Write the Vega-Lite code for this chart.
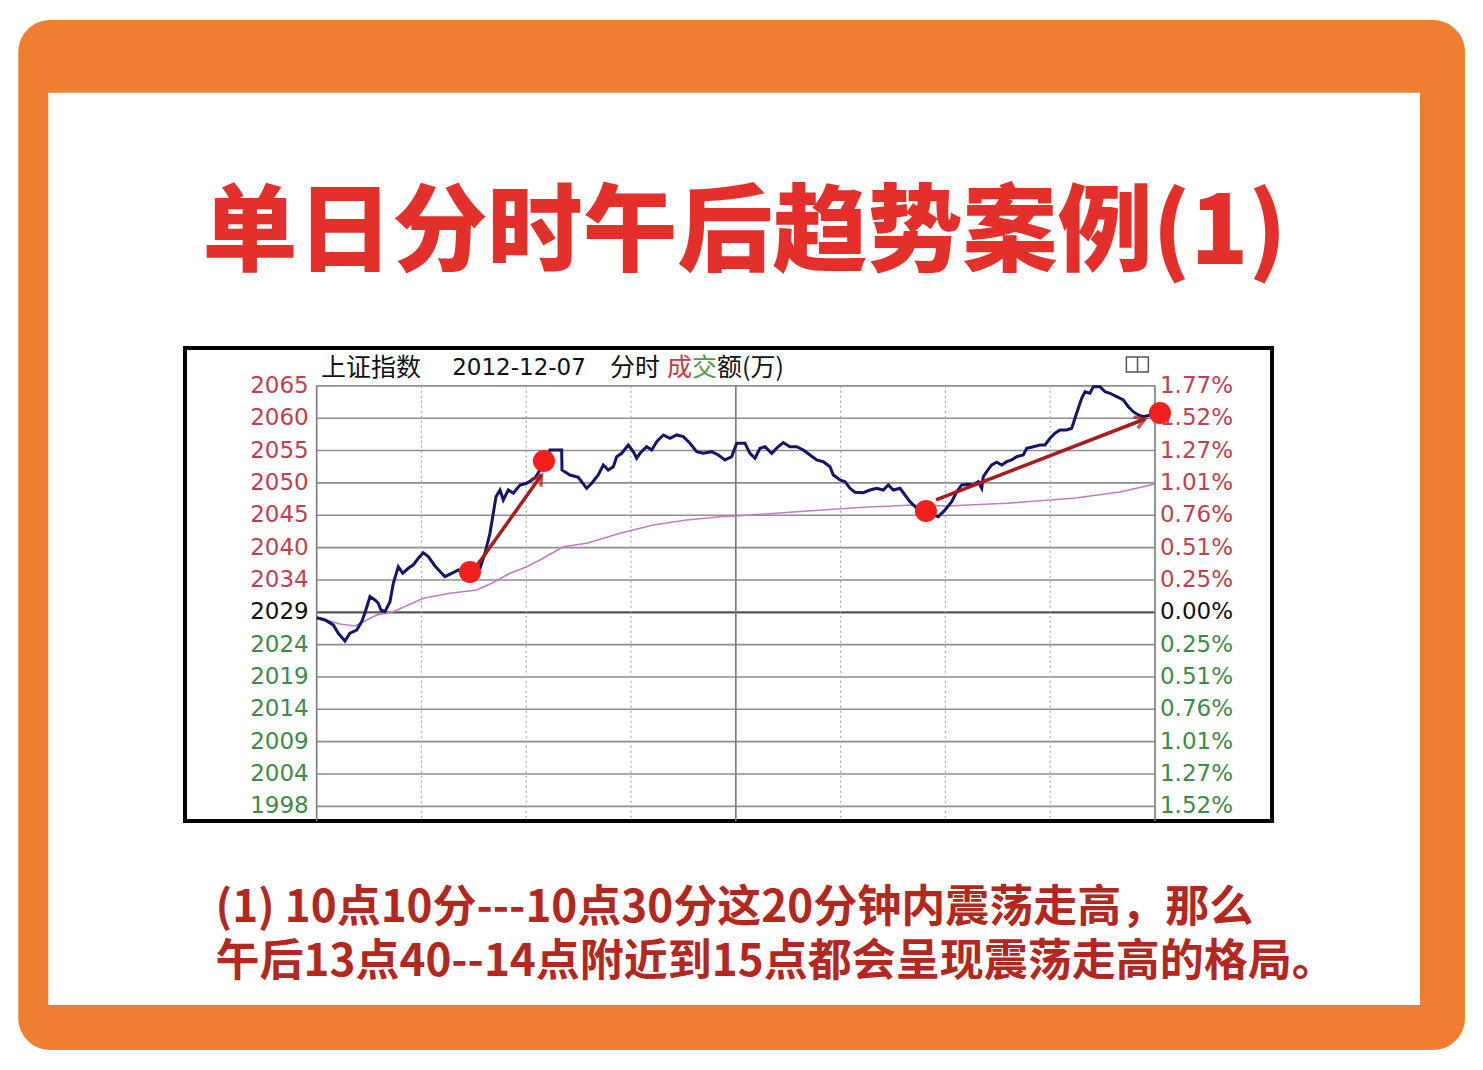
{
  "$schema": "https://vega.github.io/schema/vega-lite/v6.json",
  "autosize": {"type": "none"},
  "padding": {"left": 185, "top": 348, "right": 211, "bottom": 249},
  "width": 1087,
  "height": 473,
  "background": "white",
  "title": {
    "text": "单日分时午后趋势案例(1)",
    "font": "Noto Sans CJK SC",
    "fontSize": 95,
    "fontWeight": 900,
    "color": "#E3302A",
    "anchor": "middle",
    "frame": "group",
    "dx": 16,
    "offset": -339,
    "baseline": "alphabetic",
    "zindex": 1
  },
  "config": {
    "view": {"stroke": null},
    "axisX": {"labels": false, "ticks": false, "domain": false, "grid": false}
  },
  "datasets": {
    "price": [
      {"t": 0, "v": 2028.64}, {"t": 2.38, "v": 2028.28}, {"t": 4.75, "v": 2027.49}, {"t": 6.18, "v": 2026.17},
      {"t": 8.1, "v": 2024.95}, {"t": 9.53, "v": 2026.17}, {"t": 11.45, "v": 2026.69}, {"t": 12.88, "v": 2028.01},
      {"t": 13.83, "v": 2029.44}, {"t": 15.26, "v": 2031.97}, {"t": 16.69, "v": 2031.45}, {"t": 17.64, "v": 2030.93},
      {"t": 18.41, "v": 2029.86}, {"t": 19.55, "v": 2029.6}, {"t": 20.99, "v": 2031.18}, {"t": 21.93, "v": 2034.1},
      {"t": 23.36, "v": 2036.73}, {"t": 24.62, "v": 2035.68}, {"t": 26.22, "v": 2036.48}, {"t": 27.66, "v": 2037.0},
      {"t": 29.09, "v": 2038.06}, {"t": 30.52, "v": 2038.95}, {"t": 31.95, "v": 2038.32}, {"t": 33.87, "v": 2036.84},
      {"t": 35.79, "v": 2035.68}, {"t": 36.73, "v": 2035.15}, {"t": 38.65, "v": 2035.68}, {"t": 40.54, "v": 2036.21},
      {"t": 42.46, "v": 2035.73}, {"t": 45.32, "v": 2036.21}, {"t": 46.75, "v": 2036.48}, {"t": 48.18, "v": 2038.86},
      {"t": 49.61, "v": 2042.03}, {"t": 50.56, "v": 2045.2}, {"t": 51.33, "v": 2047.83}, {"t": 52.48, "v": 2048.89},
      {"t": 53.42, "v": 2047.31}, {"t": 54.85, "v": 2048.89}, {"t": 56.29, "v": 2048.37}, {"t": 58.2, "v": 2049.69},
      {"t": 60.12, "v": 2049.96}, {"t": 62.5, "v": 2050.8}, {"t": 65.36, "v": 2053.33}, {"t": 66.79, "v": 2055.24},
      {"t": 70.14, "v": 2055.24}, {"t": 70.23, "v": 2052.07}, {"t": 72.52, "v": 2051.27}, {"t": 74.89, "v": 2050.91},
      {"t": 77.3, "v": 2049.16}, {"t": 78.73, "v": 2049.96}, {"t": 80.62, "v": 2051.27}, {"t": 82.05, "v": 2052.86},
      {"t": 83.48, "v": 2052.07}, {"t": 84.92, "v": 2052.59}, {"t": 85.89, "v": 2054.18}, {"t": 87.32, "v": 2054.71},
      {"t": 89.21, "v": 2056.03}, {"t": 90.64, "v": 2054.97}, {"t": 91.61, "v": 2053.92}, {"t": 92.56, "v": 2054.71},
      {"t": 94.48, "v": 2055.76}, {"t": 95.91, "v": 2055.24}, {"t": 97.34, "v": 2056.55}, {"t": 99.23, "v": 2057.62},
      {"t": 101.15, "v": 2057.09}, {"t": 103.07, "v": 2057.62}, {"t": 104.96, "v": 2057.35}, {"t": 106.87, "v": 2056.3},
      {"t": 108.79, "v": 2054.97}, {"t": 110.68, "v": 2054.71}, {"t": 113.09, "v": 2054.97}, {"t": 114.98, "v": 2054.45},
      {"t": 116.89, "v": 2053.65}, {"t": 118.81, "v": 2054.18}, {"t": 120.24, "v": 2056.3}, {"t": 122.62, "v": 2056.3},
      {"t": 124.05, "v": 2054.71}, {"t": 125.48, "v": 2053.92}, {"t": 126.92, "v": 2055.51}, {"t": 128.35, "v": 2055.76},
      {"t": 130.26, "v": 2054.71}, {"t": 132.15, "v": 2055.76}, {"t": 133.59, "v": 2056.4}, {"t": 135.5, "v": 2055.76},
      {"t": 137.42, "v": 2055.76}, {"t": 139.31, "v": 2055.24}, {"t": 141.23, "v": 2054.45}, {"t": 143.15, "v": 2053.65},
      {"t": 145.04, "v": 2053.38}, {"t": 146.96, "v": 2052.59}, {"t": 147.9, "v": 2051.27}, {"t": 149.82, "v": 2050.48},
      {"t": 151.25, "v": 2050.21}, {"t": 152.68, "v": 2049.16}, {"t": 154.11, "v": 2048.53}, {"t": 156.49, "v": 2048.47},
      {"t": 158.41, "v": 2048.89}, {"t": 160.33, "v": 2049.16}, {"t": 162.21, "v": 2048.89}, {"t": 163.65, "v": 2049.69},
      {"t": 165.08, "v": 2048.89}, {"t": 167.0, "v": 2049.16}, {"t": 168.43, "v": 2048.1}, {"t": 169.86, "v": 2047.04},
      {"t": 171.78, "v": 2045.99}, {"t": 174.44, "v": 2045.41}, {"t": 177.96, "v": 2044.66}, {"t": 179.88, "v": 2045.72},
      {"t": 181.8, "v": 2047.04}, {"t": 183.23, "v": 2048.62}, {"t": 184.66, "v": 2049.69}, {"t": 186.55, "v": 2049.8},
      {"t": 187.98, "v": 2049.69}, {"t": 189.41, "v": 2050.21}, {"t": 190.39, "v": 2049.16}, {"t": 190.84, "v": 2051.0},
      {"t": 191.82, "v": 2051.8}, {"t": 193.25, "v": 2052.86}, {"t": 194.68, "v": 2053.29}, {"t": 196.11, "v": 2052.86},
      {"t": 197.54, "v": 2053.38}, {"t": 198.97, "v": 2053.65}, {"t": 200.41, "v": 2054.18}, {"t": 202.3, "v": 2054.45},
      {"t": 203.27, "v": 2055.51}, {"t": 205.16, "v": 2055.76}, {"t": 207.08, "v": 2056.03}, {"t": 208.51, "v": 2056.03},
      {"t": 209.94, "v": 2057.09}, {"t": 211.37, "v": 2057.89}, {"t": 212.81, "v": 2058.41}, {"t": 214.72, "v": 2058.41},
      {"t": 216.15, "v": 2058.68}, {"t": 217.1, "v": 2060.26}, {"t": 218.04, "v": 2061.85}, {"t": 219.02, "v": 2063.44},
      {"t": 219.96, "v": 2064.48}, {"t": 221.39, "v": 2064.23}, {"t": 222.34, "v": 2065.28}, {"t": 224.25, "v": 2065.28},
      {"t": 225.69, "v": 2064.48}, {"t": 227.12, "v": 2064.23}, {"t": 229.04, "v": 2063.69}, {"t": 230.93, "v": 2063.17},
      {"t": 232.36, "v": 2062.1}, {"t": 233.79, "v": 2061.31}, {"t": 235.22, "v": 2060.79}, {"t": 236.65, "v": 2060.52},
      {"t": 240, "v": 2060.95}
    ],
    "avg": [
      {"t": 0, "v": 2028.75}, {"t": 6.67, "v": 2027.64}, {"t": 10.97, "v": 2027.33}, {"t": 17.18, "v": 2029.07},
      {"t": 21.93, "v": 2029.6}, {"t": 30.52, "v": 2031.72}, {"t": 38.16, "v": 2032.51}, {"t": 45.81, "v": 2033.04},
      {"t": 50.1, "v": 2034.1}, {"t": 55.34, "v": 2035.68}, {"t": 60.12, "v": 2036.73}, {"t": 63.93, "v": 2037.79},
      {"t": 70.6, "v": 2039.9}, {"t": 77.3, "v": 2040.44}, {"t": 86.83, "v": 2042.03}, {"t": 96.37, "v": 2043.34},
      {"t": 105.93, "v": 2044.14}, {"t": 115.46, "v": 2044.66}, {"t": 120.24, "v": 2044.77}, {"t": 137.42, "v": 2045.45},
      {"t": 156.49, "v": 2046.15}, {"t": 170.8, "v": 2046.52}, {"t": 180.37, "v": 2046.36}, {"t": 197.54, "v": 2046.79},
      {"t": 216.61, "v": 2047.58}, {"t": 229.98, "v": 2048.58}, {"t": 240, "v": 2049.85}
    ],
    "levels": [
      {"v": 2065.41, "left": "2065", "right": "1.77%", "side": "up"},
      {"v": 2060.28, "left": "2060", "right": "1.52%", "side": "up"},
      {"v": 2055.15, "left": "2055", "right": "1.27%", "side": "up"},
      {"v": 2050.02, "left": "2050", "right": "1.01%", "side": "up"},
      {"v": 2044.89, "left": "2045", "right": "0.76%", "side": "up"},
      {"v": 2039.76, "left": "2040", "right": "0.51%", "side": "up"},
      {"v": 2034.63, "left": "2034", "right": "0.25%", "side": "up"},
      {"v": 2029.5, "left": "2029", "right": "0.00%", "side": "zero"},
      {"v": 2024.37, "left": "2024", "right": "0.25%", "side": "down"},
      {"v": 2019.24, "left": "2019", "right": "0.51%", "side": "down"},
      {"v": 2014.11, "left": "2014", "right": "0.76%", "side": "down"},
      {"v": 2008.98, "left": "2009", "right": "1.01%", "side": "down"},
      {"v": 2003.85, "left": "2004", "right": "1.27%", "side": "down"},
      {"v": 1998.72, "left": "1998", "right": "1.52%", "side": "down"}
    ],
    "vgrid": [{"t": 0}, {"t": 30}, {"t": 60}, {"t": 90}, {"t": 120}, {"t": 150}, {"t": 180}, {"t": 210}, {"t": 240}],
    "dots": [
      {"t": 43.89, "v": 2035.89}, {"t": 65.07, "v": 2053.49}, {"t": 174.44, "v": 2045.56}, {"t": 241.43, "v": 2061.1}
    ],
    "arrows": [
      {"id": 1, "t": 46.0, "v": 2037.0, "t2": 64.37, "v2": 2051.27},
      {"id": 2, "t": 177.3, "v": 2047.31, "t2": 237.13, "v2": 2060.15}
    ]
  },
  "layer": [
    {
      "data": {"values": [{}]},
      "mark": {"type": "rect", "color": "#EF7E31", "cornerRadius": 32},
      "encoding": {
        "x": {"datum": -85.43, "type": "quantitative"},
        "x2": {"datum": 328.75},
        "y": {"datum": 2123.43, "type": "quantitative", "axis": null},
        "y2": {"datum": 1960.09}
      }
    },
    {
      "data": {"values": [{}]},
      "mark": {"type": "rect", "color": "#FFFFFF"},
      "encoding": {
        "x": {"datum": -76.84, "type": "quantitative"},
        "x2": {"datum": 315.86},
        "y": {"datum": 2111.9, "type": "quantitative", "axis": null},
        "y2": {"datum": 1967.23}
      }
    },
    {
      "data": {"values": [{}]},
      "mark": {"type": "rect", "fill": "#FFFFFF", "stroke": "#000000", "strokeWidth": 4},
      "encoding": {
        "x": {"datum": -37.7, "type": "quantitative"},
        "x2": {"datum": 273.5},
        "y": {"datum": 2071.41, "type": "quantitative", "axis": null},
        "y2": {"datum": 1996.4}
      }
    },
    {
      "data": {"name": "levels"},
      "mark": {"type": "rule"},
      "encoding": {
        "x": {"datum": 0, "type": "quantitative"},
        "x2": {"datum": 240},
        "y": {"field": "v", "type": "quantitative", "axis": null},
        "color": {"condition": {"test": "datum.side == 'zero'", "value": "#555555"}, "value": "#8E8E8E"},
        "strokeWidth": {"condition": {"test": "datum.side == 'zero'", "value": 2.2}, "value": 1.6}
      }
    },
    {
      "data": {"name": "vgrid"},
      "mark": {"type": "rule"},
      "encoding": {
        "x": {"field": "t", "type": "quantitative"},
        "y": {"datum": 2065.41, "type": "quantitative", "axis": null},
        "y2": {"datum": 1996.4},
        "color": {"condition": {"test": "datum.t % 120 == 0", "value": "#7A7A7A"}, "value": "#A8A8A8"},
        "strokeWidth": {"condition": {"test": "datum.t % 120 == 0", "value": 1.6}, "value": 1.2},
        "strokeDash": {"condition": {"test": "datum.t % 120 == 0", "value": [1, 0]}, "value": [2, 3]}
      }
    },
    {
      "data": {"name": "avg"},
      "mark": {"type": "line", "color": "#C27BC4", "strokeWidth": 1.6},
      "encoding": {
        "x": {"field": "t", "type": "quantitative"},
        "y": {"field": "v", "type": "quantitative", "axis": null}
      }
    },
    {
      "data": {"name": "price"},
      "mark": {"type": "line", "color": "#15146B", "strokeWidth": 3},
      "encoding": {
        "x": {
          "field": "t",
          "type": "quantitative",
          "scale": {"domain": [-37.7, 273.5], "nice": false, "zero": false},
          "axis": {
            "orient": "bottom",
            "title": ["(1) 10点10分---10点30分这20分钟内震荡走高，那么", "午后13点40--14点附近到15点都会呈现震荡走高的格局。"],
            "titleFont": "Noto Sans CJK SC",
            "titleFontSize": 44,
            "titleFontWeight": "bold",
            "titleColor": "#B3271F",
            "titleAnchor": "start",
            "titleAlign": "left",
            "titleBaseline": "alphabetic",
            "titleX": 30,
            "titleY": 100,
            "titleLineHeight": 54,
            "labels": false,
            "ticks": false,
            "domain": false,
            "grid": false,
            "zindex": 1
          }
        },
        "y": {
          "field": "v",
          "type": "quantitative",
          "scale": {"domain": [1996.4, 2071.41], "nice": false, "zero": false},
          "axis": null
        }
      }
    },
    {
      "data": {"name": "arrows"},
      "mark": {"type": "rule", "color": "#A81C1C", "strokeWidth": 3.5},
      "encoding": {
        "x": {"field": "t", "type": "quantitative"},
        "x2": {"field": "t2"},
        "y": {"field": "v", "type": "quantitative", "axis": null},
        "y2": {"field": "v2"}
      }
    },
    {
      "data": {"name": "arrows"},
      "transform": [{"filter": "datum.id == 1"}],
      "mark": {"type": "point", "shape": "M -0.6 1 L 0 0 L 0.6 1", "filled": false, "color": "#A81C1C", "strokeWidth": 3.5, "size": 400, "angle": 34},
      "encoding": {
        "x": {"field": "t2", "type": "quantitative"},
        "y": {"field": "v2", "type": "quantitative", "axis": null}
      }
    },
    {
      "data": {"name": "arrows"},
      "transform": [{"filter": "datum.id == 2"}],
      "mark": {"type": "point", "shape": "M -0.6 1 L 0 0 L 0.6 1", "filled": false, "color": "#A81C1C", "strokeWidth": 3.5, "size": 400, "angle": 69},
      "encoding": {
        "x": {"field": "t2", "type": "quantitative"},
        "y": {"field": "v2", "type": "quantitative", "axis": null}
      }
    },
    {
      "data": {"name": "levels"},
      "mark": {"type": "text", "align": "right", "baseline": "middle", "dx": -8, "font": "DejaVu Sans", "fontSize": 23},
      "encoding": {
        "x": {"datum": 0, "type": "quantitative"},
        "y": {"field": "v", "type": "quantitative", "axis": null},
        "text": {"field": "left"},
        "color": {"field": "side", "type": "nominal", "scale": {"domain": ["up", "zero", "down"], "range": ["#C0404E", "#111111", "#3E8A46"]}, "legend": null}
      }
    },
    {
      "data": {"name": "levels"},
      "mark": {"type": "text", "align": "left", "baseline": "middle", "dx": 5, "font": "DejaVu Sans", "fontSize": 23},
      "encoding": {
        "x": {"datum": 240, "type": "quantitative"},
        "y": {"field": "v", "type": "quantitative", "axis": null},
        "text": {"field": "right"},
        "color": {"field": "side", "type": "nominal", "scale": {"domain": ["up", "zero", "down"], "range": ["#C0404E", "#111111", "#3E8A46"]}, "legend": null}
      }
    },
    {
      "data": {"name": "dots"},
      "mark": {"type": "point", "filled": true, "color": "#F2201C", "opacity": 1, "size": 490},
      "encoding": {
        "x": {"field": "t", "type": "quantitative"},
        "y": {"field": "v", "type": "quantitative", "axis": null}
      }
    },
    {
      "data": {"values": [{}]},
      "mark": {"type": "text", "text": "上证指数", "align": "left", "baseline": "middle", "font": "Noto Sans CJK SC", "fontSize": 25, "color": "#111111"},
      "encoding": {"x": {"datum": 1.23, "type": "quantitative"}, "y": {"datum": 2068.24, "type": "quantitative", "axis": null}}
    },
    {
      "data": {"values": [{}]},
      "mark": {"type": "text", "text": "2012-12-07", "align": "left", "baseline": "middle", "font": "DejaVu Sans", "fontSize": 23, "color": "#111111"},
      "encoding": {"x": {"datum": 38.8, "type": "quantitative"}, "y": {"datum": 2068.24, "type": "quantitative", "axis": null}}
    },
    {
      "data": {"values": [{}]},
      "mark": {"type": "text", "text": "分时", "align": "left", "baseline": "middle", "font": "Noto Sans CJK SC", "fontSize": 25, "color": "#111111"},
      "encoding": {"x": {"datum": 84.0, "type": "quantitative"}, "y": {"datum": 2068.24, "type": "quantitative", "axis": null}}
    },
    {
      "data": {"values": [{}]},
      "mark": {"type": "text", "text": "成", "align": "left", "baseline": "middle", "font": "Noto Sans CJK SC", "fontSize": 25, "color": "#D2343C"},
      "encoding": {"x": {"datum": 100.28, "type": "quantitative"}, "y": {"datum": 2068.24, "type": "quantitative", "axis": null}}
    },
    {
      "data": {"values": [{}]},
      "mark": {"type": "text", "text": "交", "align": "left", "baseline": "middle", "font": "Noto Sans CJK SC", "fontSize": 25, "color": "#4E9A4E"},
      "encoding": {"x": {"datum": 107.44, "type": "quantitative"}, "y": {"datum": 2068.24, "type": "quantitative", "axis": null}}
    },
    {
      "data": {"values": [{}]},
      "mark": {"type": "text", "text": "额(万)", "align": "left", "baseline": "middle", "font": "Noto Sans CJK SC", "fontSize": 25, "color": "#111111"},
      "encoding": {"x": {"datum": 114.6, "type": "quantitative"}, "y": {"datum": 2068.24, "type": "quantitative", "axis": null}}
    },
    {
      "data": {"values": [{}]},
      "mark": {"type": "rect", "fill": "#FFFFFF", "stroke": "#555555", "strokeWidth": 1.5},
      "encoding": {
        "x": {"datum": 231.8, "type": "quantitative"},
        "x2": {"datum": 238.1},
        "y": {"datum": 2070.0, "type": "quantitative", "axis": null},
        "y2": {"datum": 2067.6}
      }
    },
    {
      "data": {"values": [{}]},
      "mark": {"type": "rule", "color": "#555555", "strokeWidth": 1.5},
      "encoding": {
        "x": {"datum": 235.0, "type": "quantitative"},
        "y": {"datum": 2070.0, "type": "quantitative", "axis": null},
        "y2": {"datum": 2067.6}
      }
    }
  ]
}
